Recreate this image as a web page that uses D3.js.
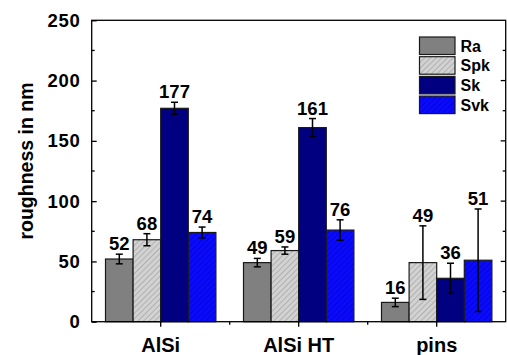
<!DOCTYPE html>
<html>
<head>
<meta charset="utf-8">
<script src="https://cdn.jsdelivr.net/npm/d3@7"></script>
<style>
  html, body { margin: 0; padding: 0; background: #fff; }
  svg { display: block; font-family: "Liberation Sans", Arial, sans-serif; font-weight: bold; }
</style>
</head>
<body>
<svg id="chart" width="507" height="355"></svg>
<script>
// Surface roughness parameters per sample type (nm)
const categories = ["AlSi", "AlSi HT", "pins"];
const seriesNames = ["Ra", "Spk", "Sk", "Svk"];
const values = {
  Ra:  [52, 49, 16],
  Spk: [68, 59, 49],
  Sk:  [177, 161, 36],
  Svk: [74, 76, 51]
};
const errors = {
  Ra:  [4, 3.5, 3.5],
  Spk: [5, 3, 30.5],
  Sk:  [5, 7.5, 12.5],
  Svk: [4.5, 8.5, 42.5]
};
const yTicks = [0, 50, 100, 150, 200, 250];
const yTitle = "roughness in nm";

const svg = d3.select("#chart");
const plotLeft = 91.7, plotRight = 505.7, plotTop = 20.3, plotBottom = 321.7;

const x = d3.scaleBand().domain(categories).range([plotLeft, plotRight]).padding(0);
const xInner = d3.scaleBand().domain(seriesNames)
  .range([x.bandwidth() * 0.1, x.bandwidth() * 0.9]).padding(0);
const y = d3.scaleLinear().domain([0, 250]).range([plotBottom, plotTop]);

// hatch patterns
const defs = svg.append("defs");
function hatch(id, base, line) {
  const p = defs.append("pattern").attr("id", id)
    .attr("patternUnits", "userSpaceOnUse").attr("width", 4).attr("height", 4)
    .attr("patternTransform", "rotate(45)");
  p.append("rect").attr("width", 4).attr("height", 4).attr("fill", base);
  p.append("line").attr("x1", 0).attr("y1", 0).attr("x2", 0).attr("y2", 4)
    .attr("stroke", line).attr("stroke-width", 1.2);
}
hatch("hSpk", "#d2d2d2", "#9a9a9a");
hatch("hSvk", "#0a0aff", "#0000b8");

const fills = { Ra: "#808080", Spk: "url(#hSpk)", Sk: "#000080", Svk: "url(#hSvk)" };

// bars
const rows = [];
categories.forEach((c, i) => seriesNames.forEach(s => rows.push({ c, s, v: values[s][i], e: errors[s][i] })));

const g = svg.append("g");
g.selectAll("rect.bar").data(rows).join("rect")
  .attr("class", "bar")
  .attr("x", d => x(d.c) + xInner(d.s))
  .attr("y", d => y(d.v))
  .attr("width", xInner.bandwidth())
  .attr("height", d => y(0) - y(d.v))
  .attr("fill", d => fills[d.s])
  .attr("stroke", "#1a1a1a").attr("stroke-width", 1.2);

// error bars
const cx = d => x(d.c) + xInner(d.s) + xInner.bandwidth() / 2;
const eb = g.selectAll("g.err").data(rows).join("g").attr("class", "err")
  .attr("stroke", "#000").attr("stroke-width", 1.5);
eb.append("line").attr("x1", cx).attr("x2", cx)
  .attr("y1", d => y(d.v + d.e)).attr("y2", d => y(d.v - d.e));
eb.append("line").attr("x1", d => cx(d) - 3.5).attr("x2", d => cx(d) + 3.5)
  .attr("y1", d => y(d.v + d.e)).attr("y2", d => y(d.v + d.e));
eb.append("line").attr("x1", d => cx(d) - 3.5).attr("x2", d => cx(d) + 3.5)
  .attr("y1", d => y(d.v - d.e)).attr("y2", d => y(d.v - d.e));

// value labels
g.selectAll("text.val").data(rows).join("text")
  .attr("class", "val")
  .attr("x", cx)
  .attr("y", d => y(d.v + d.e) - 4)
  .attr("text-anchor", "middle")
  .attr("font-size", 18.5)
  .attr("fill", "#000")
  .text(d => d.v);

// frame
svg.append("rect").attr("x", plotLeft).attr("y", plotTop)
  .attr("width", plotRight - plotLeft).attr("height", plotBottom - plotTop)
  .attr("fill", "none").attr("stroke", "#000").attr("stroke-width", 1.3);

// left axis: ticks point inward
const yAxisL = d3.axisLeft(y).tickValues(yTicks).tickSizeInner(-5).tickSizeOuter(0).tickPadding(11);
const gl = svg.append("g").attr("transform", `translate(${plotLeft},0)`).call(yAxisL);
gl.select(".domain").remove();
gl.selectAll(".tick line").attr("stroke", "#000").attr("stroke-width", 1.3);
gl.selectAll(".tick text").attr("font-size", 18.5).attr("font-weight", "bold")
  .attr("font-family", "Liberation Sans, Arial, sans-serif").attr("fill", "#000")
  .style("letter-spacing", "0.8px");

// minor ticks (left and right, inward)
const minor = d3.range(25, 250, 50);
svg.append("g").selectAll("line").data(minor).join("line")
  .attr("x1", plotLeft).attr("x2", plotLeft + 3).attr("y1", y).attr("y2", y)
  .attr("stroke", "#000").attr("stroke-width", 1.3);
const rightTicks = d3.range(25, 250, 25);
svg.append("g").selectAll("line").data(rightTicks).join("line")
  .attr("x1", plotRight).attr("x2", d => plotRight - (d % 50 === 0 ? 5 : 3)).attr("y1", y).attr("y2", y)
  .attr("stroke", "#000").attr("stroke-width", 1.3);

// bottom axis: ticks point outward
const xAxis = d3.axisBottom(x).tickSizeInner(5).tickSizeOuter(0).tickPadding(11);
const gx = svg.append("g").attr("transform", `translate(0,${plotBottom})`).call(xAxis);
gx.select(".domain").remove();
gx.selectAll(".tick line").attr("stroke", "#000").attr("stroke-width", 1.3);
gx.selectAll(".tick text").attr("font-size", 20).attr("font-weight", "bold")
  .attr("font-family", "Liberation Sans, Arial, sans-serif").attr("fill", "#000");
const xMinor = categories.slice(1).map(c => x(c));
svg.append("g").selectAll("line").data(xMinor).join("line")
  .attr("x1", d => d).attr("x2", d => d).attr("y1", plotBottom).attr("y2", plotBottom + 3)
  .attr("stroke", "#000").attr("stroke-width", 1.3);

// axis title
svg.append("text")
  .attr("transform", "translate(33,161) rotate(-90)")
  .attr("text-anchor", "middle")
  .attr("font-size", 19.5)
  .attr("fill", "#000")
  .text(yTitle);

// legend
const lg = svg.append("g").attr("transform", "translate(419.5,37)");
const li = lg.selectAll("g").data(seriesNames).join("g")
  .attr("transform", (d, i) => `translate(0,${i * 19.7})`);
li.append("rect").attr("width", 35.5).attr("height", 17.5)
  .attr("fill", d => fills[d]).attr("stroke", "#1a1a1a").attr("stroke-width", 1.2);
li.append("text").attr("x", 41).attr("y", 14.5)
  .attr("font-size", 16).attr("fill", "#000").text(d => d);
</script>
</body>
</html>
